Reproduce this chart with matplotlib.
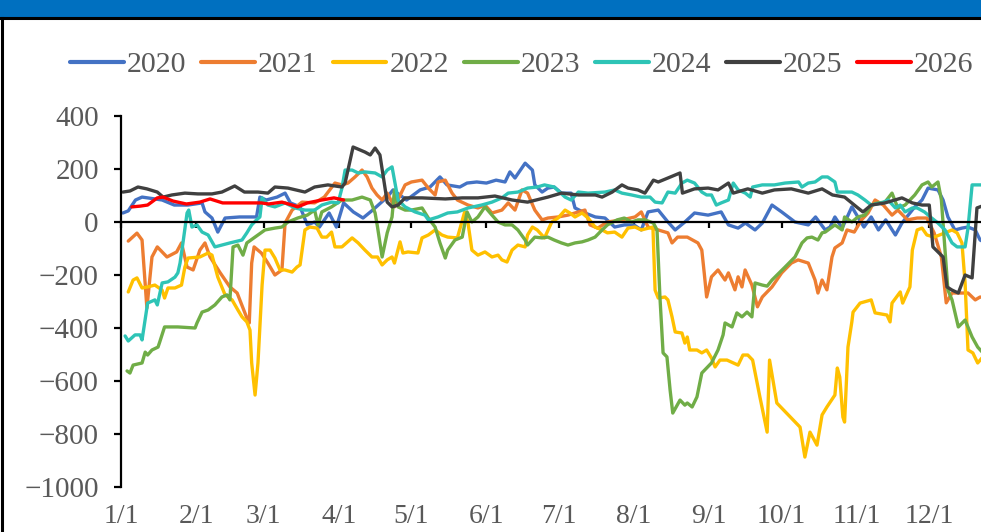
import matplotlib
matplotlib.use("Agg")
import matplotlib.pyplot as plt
from matplotlib.lines import Line2D
from matplotlib.patches import Rectangle

# ---- data (x = day of year, 0 = Jan 1) ----
month_days = [0, 31, 59, 90, 120, 151, 181, 212, 243, 273, 304, 334]
month_labels = ["1/1", "2/1", "3/1", "4/1", "5/1", "6/1", "7/1", "8/1", "9/1", "10/1", "11/1", "12/1"]
y_ticks = [400, 200, 0, -200, -400, -600, -800, -1000]

d2020 = [0.8, 3, 6, 8.7, 11, 17, 22, 27.7, 33.5, 34.7, 37.6, 40, 43, 49, 56, 57.4, 60, 64.5, 67.8, 70, 74, 77, 80, 82, 86, 89, 92, 96, 100, 104, 110, 112.4, 118, 123.6, 127.7, 131.8, 134.7, 140, 143, 147, 151, 155, 158.7, 160.7, 162.8, 167, 170, 171, 174, 176.4, 179, 182, 186, 187.6, 191.7, 196, 200, 204, 208, 212, 215, 217.8, 222, 226, 229, 233, 237, 242.6, 248, 251, 255, 258, 262, 265, 269, 273, 278.5, 284, 287, 291, 293, 295, 298, 302, 304.5, 307, 310, 313, 316, 320, 322.7, 328, 331, 333.5, 337.6, 339.7, 341.7, 344.6, 347.5, 350, 353, 355, 359]
v2020 = [34, 42, 83, 94, 91, 83, 64, 64, 72, 38, 15, -38, 15, 19, 19, 94, 83, 94, 109, 72, 57, -11, 0, -19, 34, -19, 72, 38, 15, 45, 94, 121, 83, 121, 132, 170, 140, 132, 147, 151, 147, 158, 151, 189, 166, 222, 196, 140, 113, 128, 132, 109, 109, 53, 34, 19, 15, -19, -11, -11, -30, 38, 45, 0, -30, 0, 34, 26, 38, -11, -23, -4, -30, -4, 64, 38, 0, -11, 19, -30, -19, 19, -23, 57, 19, -19, 19, -30, 8, -49, -4, 57, 83, 128, 121, 83, 19, -30, -23, -19, -30, -68, -87]

d2021 = [3, 6.6, 8.7, 10.7, 12.8, 15, 19, 23, 25, 27.3, 29.8, 32.6, 34.7, 36.8, 41, 45, 48, 52, 53, 54, 55, 58, 60.7, 63.6, 66.5, 67.8, 70.7, 74.8, 80, 84, 88.4, 91.3, 93.8, 96.7, 99.6, 101.7, 103.7, 105.8, 107.9, 110, 113, 117.4, 120, 124.4, 127, 129.8, 131, 134, 136.8, 139, 143.4, 147.5, 150.4, 153.3, 157.4, 160, 162.8, 165.7, 168, 171, 174, 176.4, 180.6, 184.7, 189, 191.7, 193.8, 197, 201, 207, 212.4, 215, 217.8, 222, 226, 227.7, 230, 234, 238.4, 240, 241, 242, 244, 246.7, 249.6, 251, 253.7, 255, 256.6, 257.9, 260.7, 263, 265, 269, 273, 277, 279.8, 284, 286.8, 288, 289.7, 291.7, 293.8, 295, 298, 300, 303, 306, 308.7, 311.6, 315, 318.6, 321, 325, 329, 333, 336, 339, 341, 343.4, 346, 350, 353, 355, 359]
v2021 = [-72, -42, -68, -325, -132, -94, -132, -113, -79, -170, -181, -106, -79, -132, -192, -245, -268, -362, -381, -155, -94, -117, -155, -200, -181, -4, 45, 75, 72, 94, 147, 140, 147, 170, 196, 170, 128, 102, 83, 109, 57, 140, 151, 158, 128, 102, 151, 158, 109, 83, 64, 53, 64, 34, 45, 72, 45, 121, 109, 45, 8, 15, 19, 26, 38, 45, -11, -23, 0, 8, 19, 38, -19, -30, -41, -79, -57, -57, -79, -106, -192, -283, -207, -181, -219, -192, -256, -207, -245, -181, -238, -320, -283, -245, -192, -155, -143, -155, -219, -268, -219, -256, -132, -98, -79, -30, -38, 8, 34, 83, 64, 26, 45, 8, 15, 15, -41, -132, -305, -268, -268, -268, -294, -283, -290]

d2022 = [3, 5, 6.6, 8.7, 11, 14, 17, 18, 19.4, 22.3, 25, 26.4, 27.7, 32.6, 36, 37.6, 40, 43, 45.9, 48.3, 50, 52, 53.3, 54, 55.4, 56.6, 58.3, 59.5, 61.6, 63.6, 65.7, 67.8, 70.7, 72.7, 74, 76, 78, 81, 83, 85, 87, 88.4, 91.3, 95.5, 98, 100.8, 103.7, 106, 107.9, 110, 112, 113, 115.3, 116.5, 118.6, 122.7, 124.4, 127, 129.8, 132.6, 135, 139, 142, 143.4, 145, 147.5, 150.4, 153.3, 155.8, 157.4, 159.5, 161.6, 164, 167, 168, 170, 172, 175, 178, 180.6, 183.5, 185.5, 187.6, 190.5, 193, 195.9, 198.8, 201, 204, 207, 209.5, 212.4, 215, 219.8, 220.7, 222, 224.8, 226, 227.7, 229, 231.8, 233, 234, 235, 238, 240, 242, 244, 245.5, 247.5, 250.4, 253, 255, 257, 259, 261, 264, 267, 268, 271, 280.6, 282.6, 284.7, 287.6, 289.7, 291.7, 295, 296, 297, 298.3, 299, 300.4, 302, 302.5, 305.4, 310, 311.6, 316.5, 317.8, 318.6, 322, 323, 326, 327, 329, 331, 333, 336, 340.5, 343.4, 345.5, 347.5, 348.8, 350, 352, 354, 357]
v2022 = [-264, -219, -211, -249, -245, -238, -257, -287, -249, -249, -238, -170, -136, -132, -117, -125, -208, -275, -294, -332, -358, -377, -408, -532, -653, -532, -238, -106, -106, -136, -181, -181, -189, -170, -162, -30, -19, -23, -57, -57, -38, -94, -94, -60, -79, -106, -132, -132, -162, -143, -132, -155, -75, -117, -113, -117, -60, -49, -30, -49, -57, -60, 38, -4, -106, -125, -113, -132, -125, -143, -151, -106, -87, -94, -49, -19, -30, -60, 0, 15, 45, 34, 19, 34, 15, -19, -30, -41, -38, -57, -23, -19, -30, -19, -257, -287, -283, -294, -358, -415, -419, -457, -434, -483, -483, -494, -483, -513, -547, -521, -521, -532, -540, -502, -502, -521, -660, -793, -521, -683, -774, -887, -793, -842, -728, -698, -653, -551, -585, -736, -755, -472, -377, -340, -306, -294, -343, -351, -377, -306, -264, -306, -245, -106, -30, -23, -49, -57, -41, -30, -41, -79, -230, -483, -494, -532, -500]

d2023 = [2.5, 3.7, 5, 8.7, 10, 11, 12.8, 15.3, 16, 18, 23.5, 30.6, 31.4, 33.5, 36, 38.8, 41.7, 43.8, 45, 46.3, 48.3, 50.4, 52, 55.4, 59.5, 63.6, 66.5, 69, 73, 77, 80, 81.4, 83, 87, 91.3, 95.5, 99.6, 103, 105, 106, 107.9, 110, 112, 113, 114.5, 117.4, 120, 124.4, 127, 129.8, 131.8, 134, 135, 138, 141, 143, 145, 147.5, 150.4, 153.3, 155.8, 158.7, 161.6, 164, 167, 168, 171, 174, 176.4, 179, 182, 184.7, 187.6, 190.5, 193, 195.9, 198.8, 201, 205, 208, 211, 213.6, 216.5, 220, 221.5, 222.7, 224, 225.6, 226.9, 228, 231, 233, 234, 236, 238, 240, 244, 246.7, 248.8, 249.6, 252.5, 254.5, 256.6, 258.7, 260.7, 262, 265, 267, 269, 274.4, 278.5, 281.4, 283.5, 285.5, 288, 289.7, 291, 295, 298, 299, 302, 304.5, 307.4, 310, 312.8, 315.7, 318.6, 321, 324, 328, 331, 333.5, 335, 337.6, 339, 340.5, 341.7, 343.4, 346, 348.8, 351.7, 354, 357]
v2023 = [-562, -570, -540, -532, -491, -502, -483, -472, -453, -396, -396, -400, -381, -340, -332, -313, -283, -275, -294, -94, -87, -125, -79, -57, -30, -23, -19, 0, 15, 26, 45, -11, 38, 57, 83, 83, 94, 83, 34, -19, -132, -41, 19, 121, 57, 45, 45, 53, 15, -19, -79, -136, -106, -68, -57, 38, 0, 19, 57, 26, 0, -11, -11, -30, -68, -87, -57, -60, -57, -68, -79, -87, -79, -75, -68, -57, -30, -11, 8, 15, 0, 8, 8, -4, -30, -283, -494, -509, -634, -721, -672, -691, -683, -698, -660, -570, -532, -483, -426, -381, -396, -343, -358, -340, -358, -230, -238, -242, -219, -170, -132, -79, -60, -57, -68, -41, -38, -11, -30, 19, 0, 19, 26, 64, 72, 75, 109, 53, 64, 102, 140, 151, 132, 151, 83, -106, -257, -294, -396, -370, -434, -472, -502]

d2024 = [1.7, 3, 5.8, 7.9, 8.7, 11, 14, 15, 17, 19.4, 22.3, 23.5, 24.4, 25.6, 27.3, 28, 29.3, 31.4, 33.5, 36, 38.8, 45, 50, 52, 54, 56, 57.4, 58.3, 60.7, 63.6, 67.8, 71.9, 76, 80, 83, 87, 89.7, 91.3, 92.6, 95.5, 98, 100.8, 105, 107.9, 110, 112, 113, 114.5, 117.4, 121.5, 125.6, 127, 131, 135, 139, 143.4, 149, 153.3, 157.4, 160, 164, 168, 172, 175, 179, 183.5, 186, 189, 193, 200, 204, 207, 211, 215, 218.6, 220.7, 223.6, 226, 229, 231.8, 234, 237, 240, 242, 244, 246, 248, 251, 253, 255, 258, 260, 261, 265, 270, 274.4, 280, 281.4, 284, 286.8, 289.7, 292, 295, 296, 302, 304.5, 307.4, 310, 314.5, 317, 320, 322, 324, 327, 329, 332, 335, 337.6, 340.5, 343.4, 345.5, 348.8, 350, 351.7, 357]
v2024 = [-430, -449, -426, -426, -445, -306, -294, -313, -230, -226, -208, -192, -155, -79, 34, 45, -19, -11, -38, -49, -94, -79, -68, -41, -11, 8, 19, 91, 64, 57, 72, 53, 45, 45, 64, 75, 72, 128, 196, 196, 185, 189, 185, 170, 196, 208, 158, 83, 57, 38, 26, 8, 19, 34, 38, 53, 64, 75, 91, 109, 113, 128, 132, 140, 132, 94, 83, 113, 109, 113, 121, 109, 102, 94, 94, 75, 72, 113, 109, 147, 158, 147, 113, 102, 102, 64, 72, 83, 147, 121, 109, 94, 132, 140, 140, 147, 151, 132, 147, 151, 170, 170, 151, 113, 113, 102, 83, 64, 72, 83, 53, 64, 38, 53, 53, 38, 15, -4, -30, -79, -94, -94, -23, 140, 140]

d2025 = [0.8, 3.7, 7, 10.7, 15, 17.4, 21, 26.4, 31.8, 37.6, 41.7, 47, 51, 56.6, 60.7, 63.6, 69, 76, 80, 85.5, 91.3, 92.6, 95.9, 100.8, 103, 105, 107, 110, 112, 114.5, 117.4, 124.4, 134, 141, 147.5, 154.5, 161.6, 168, 176.4, 182, 189, 196, 198.8, 203, 207, 209.5, 213.6, 216.5, 220, 222, 226, 231, 232, 237, 242.6, 246.7, 251, 253, 259, 265, 270, 277, 284, 289.7, 294, 299, 304.5, 306.6, 310, 315.7, 322.7, 327, 331, 334, 335.5, 339.7, 341.3, 343.4, 346, 348.8, 351.7, 353.7, 357]
v2025 = [113, 117, 132, 125, 113, 94, 102, 109, 106, 106, 113, 136, 113, 113, 109, 132, 128, 113, 132, 140, 132, 147, 283, 264, 253, 279, 253, 75, 57, 64, 91, 91, 87, 91, 91, 98, 83, 75, 94, 109, 102, 102, 94, 113, 140, 128, 121, 109, 158, 151, 166, 185, 109, 125, 128, 121, 147, 109, 125, 109, 121, 125, 109, 125, 102, 94, 53, 38, 64, 72, 91, 72, 64, 64, -94, -132, -245, -257, -268, -200, -211, 53, 64]

d2026 = [4.5, 8, 11, 15, 17.4, 21.5, 27, 32.6, 36.8, 42, 47, 53, 58, 61, 66.5, 70.7, 73, 77, 83, 88, 92]
v2026 = [57, 60, 64, 91, 94, 79, 68, 75, 87, 72, 72, 72, 72, 68, 75, 64, 57, 72, 83, 91, 83]

series = [
    ("2020", d2020, v2020, "#4472C4"),
    ("2021", d2021, v2021, "#ED7D31"),
    ("2022", d2022, v2022, "#FFC000"),
    ("2023", d2023, v2023, "#70AD47"),
    ("2024", d2024, v2024, "#2EC4B6"),
    ("2025", d2025, v2025, "#404040"),
    ("2026", d2026, v2026, "#FF0000"),
]

W, H = 981, 532
fig = plt.figure(figsize=(W / 100, H / 100), dpi=100)
fig.patch.set_facecolor("white")
font = "Liberation Serif"
gray = "#595959"

# header bar and frame
fig.patches.append(Rectangle((0, 1 - 16.5 / H), 1, 16.5 / H, transform=fig.transFigure,
                             facecolor="#0070C0", edgecolor="none", zorder=0))
fig.add_artist(Line2D([0, 1], [1 - 18 / H, 1 - 18 / H], transform=fig.transFigure,
                      color="black", lw=2.2))
fig.add_artist(Line2D([1.5 / W, 1.5 / W], [0, 1 - 18 / H], transform=fig.transFigure,
                      color="black", lw=2.2))

ax_left = 121 / W
ax_w = 365 * 2.42 / W
ax_bottom = (H - 487) / H
ax_h = (487 - 116) / H
ax = fig.add_axes([ax_left, ax_bottom, ax_w, ax_h])
ax.set_facecolor("none")

for name, d, v, c in series:
    ax.plot(d, v, color=c, lw=2.4, label=name, solid_joinstyle="round", solid_capstyle="round")

ax.set_xlim(0, 365)
ax.set_ylim(-1000, 400)

for s in ["top", "right"]:
    ax.spines[s].set_visible(False)
ax.spines["left"].set_linewidth(1.6)
ax.spines["bottom"].set_position(("data", 0))
ax.spines["bottom"].set_linewidth(1.6)

ax.set_yticks(y_ticks)
ax.set_yticklabels([f"{t}".replace("-", "\u2212") for t in y_ticks], fontfamily=font,
                   fontsize=21, color=gray)
ax.tick_params(axis="y", direction="out", length=5, width=1.6, pad=11, color="black")

ax.set_xticks(month_days)
ax.set_xticklabels([])
ax.tick_params(axis="x", direction="out", length=4.5, width=1.6, color="black")

sec = ax.secondary_xaxis(0)
sec.set_xticks(month_days)
sec.set_xticklabels(month_labels, fontfamily=font, fontsize=20, color=gray)
sec.tick_params(length=0, pad=12.5)
sec.spines["bottom"].set_visible(False)

leg = fig.legend(handles=ax.get_lines(), labels=[s[0] for s in series], loc="center",
                 bbox_to_anchor=(522 / W, 1 - 65 / H), ncol=7, frameon=False,
                 prop={"family": font, "size": 21.5}, handlelength=1.8, handletextpad=0.1,
                 columnspacing=0.5, borderpad=0)
for t in leg.get_texts():
    t.set_color(gray)
for lh in leg.get_lines():
    lh.set_linewidth(3)

fig.savefig("out.png", dpi=100)
